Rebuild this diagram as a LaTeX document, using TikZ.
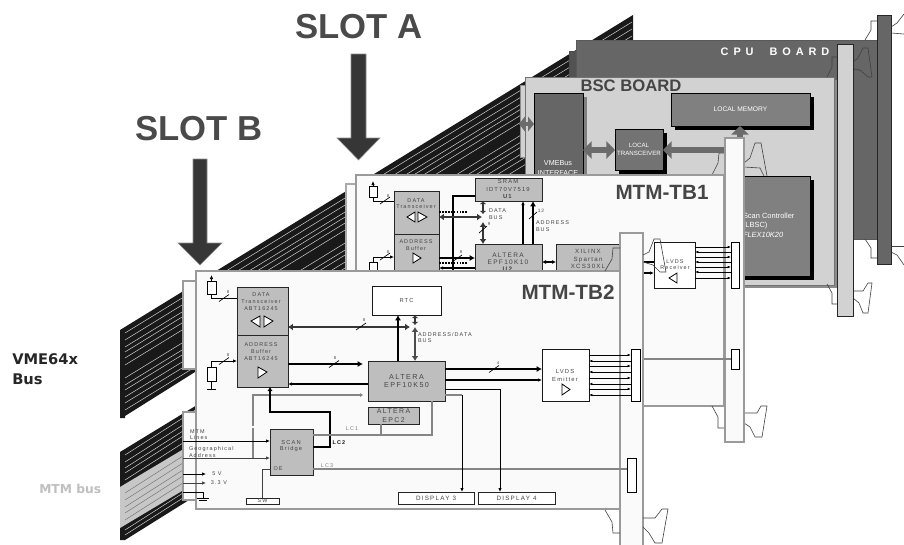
\documentclass[tikz,border=0pt]{standalone}
\usepackage{fontspec}
\setmainfont{Liberation Sans}
\newfontfamily\spc[LetterSpace=20]{Liberation Sans}
\newfontfamily\spcw[LetterSpace=45]{Liberation Sans}
\newfontfamily\vdj{DejaVu Sans}
\usetikzlibrary{arrows.meta}
\definecolor{txtg}{HTML}{454545}
\definecolor{boxg}{HTML}{BEBEBE}
\definecolor{brd}{HTML}{9A9A9A}
\definecolor{pan}{HTML}{FAFAFA}
\definecolor{dk}{HTML}{363636}
\definecolor{cpu}{HTML}{666666}
\definecolor{bsc}{HTML}{D2D2D2}
\definecolor{lcg}{HTML}{858585}
\tikzset{
  pb/.style={draw,rectangle,inner sep=0pt,outer sep=0pt,align=center},
  chip/.style={pb,fill=boxg,draw=black!85,line width=.75pt},
  wbox/.style={pb,fill=white,draw=black!90,line width=.75pt},
  board/.style={pb,fill=pan,draw=brd,line width=.8pt},
  res/.style={pb,fill=white,draw=black,line width=.5pt},
  conn/.style={pb,fill=white,draw=black,line width=.6pt},
  graybox/.style={pb,draw=black,line width=.6pt},
  txs/.style={inner sep=0pt,outer sep=0pt,align=center,text=txtg,font=\spc\fontsize{4.1}{5}\selectfont},
  txsl/.style={txs,align=left,anchor=west},
  txm/.style={inner sep=0pt,outer sep=0pt,align=center,text=txtg,font=\spc\fontsize{5.3}{5.6}\selectfont},
  txw/.style={inner sep=0pt,outer sep=0pt,align=center,text=white,font=\fontsize{5}{5.6}\selectfont},
  big/.style={inner sep=0pt,outer sep=0pt,text=txtg,font=\bfseries\fontsize{15.5}{17}\selectfont},
  slotlab/.style={inner sep=0pt,outer sep=0pt,text=dk!90!white,font=\bfseries\fontsize{26}{28}\selectfont},
  tip/.style={-{Latex[length=3pt,width=2.6pt]}},
  ln/.style={black,line width=.55pt},
  lnt/.style={black,line width=1.1pt,tip},
  lnh/.style={black,line width=1.9pt,-{Latex[length=4pt,width=4.5pt]}},
  dbl/.style={dk,line width=1.5pt,{Latex[length=3.6pt,width=5pt]}-{Latex[length=3.6pt,width=5pt]}},
  dbls/.style={dk,line width=1.5pt,{Latex[length=2.4pt,width=5pt]}-{Latex[length=2.4pt,width=5pt]}},
  dot/.style={black,line width=.8pt,dash pattern=on 1.3pt off .9pt},
  lcl/.style={lcg,line width=.9pt},
  slash/.style={black,line width=.5pt},
  tri/.style={draw=black,fill=white,line width=.6pt},
  hnd/.style={draw=black!75,line width=.45pt},
  garrow/.style={draw=black!58,line width=4pt,{Triangle[length=6.5pt,width=13pt]}-{Triangle[length=6.5pt,width=13pt]}},
  garrows/.style={draw=black!58,line width=3pt,{Triangle[length=4.5pt,width=11pt]}-{Triangle[length=4.5pt,width=11pt]}},
  slotarr/.style={fill=dk,draw=black!45,line width=.4pt},
  stripe/.style={white!85!black,line width=.35pt},
}
\newcommand\pbox[7]{%
  \pgfmathsetmacro\bw{(#5-#3)*.75}\pgfmathsetmacro\bh{(#6-#4)*.75}%
  \node[#1,minimum width=\bw pt,minimum height=\bh pt] (#2) at ({(#3+#5)/2},{(#4+#6)/2}) {#7};}
\begin{document}
\begin{tikzpicture}[x=.75pt,y=-.75pt]
\clip (0,0) rectangle (904,544);
\fill[white] (0,0) rectangle (904,544);

% VME64x ribbon
\fill[black!90] (120,330) -- (633,15) -- (633,110) -- (195,372) -- (125,416) -- (125,418) -- (120,418) -- cycle;
\foreach \y in {333,340,347,352,358,365,378,385,390,397,403,410}{
  \draw[stripe] (125,\y) -- (632,\y-311);
}

% CPU board
\pbox{pb,fill=cpu!80!black,draw=black!70,line width=.6pt}{cputab}{569}{51}{577}{90}{}
\pbox{pb,fill=cpu,draw=black!65,line width=.6pt}{cpuboard}{576}{40}{878}{239}{}
\draw[hnd] (865,40) -- (871,30) -- (871,21) -- (877,21);
\draw[hnd] (865,239) -- (871,248) -- (871,258) -- (877,258);
\draw[hnd] (891,27) -- (897,23) -- (904,14);
\draw[hnd] (891,33) -- (904,34);
\draw[hnd] (891,246) -- (904,246);
\draw[hnd] (891,252) -- (897,255) -- (904,265);
\pbox{pb,fill=cpu,draw=black!85,line width=.7pt}{cpupanel}{877}{15}{891}{264}{}
\node[inner sep=0pt,text=white,font=\spcw\bfseries\fontsize{8.2}{9}\selectfont] (cpulab) at (775,52) {CPU\ \ BOARD};

% BSC board
\fill[black!45] (528,80) rectangle (837,288);
\pbox{pb,fill=bsc,draw=black!45,line width=.6pt}{bsctab}{520}{85}{526}{157}{}
\pbox{pb,fill=bsc,draw=black!55,line width=.7pt}{bscboard}{525}{77}{834}{285}{}
\draw[hnd] (827,77) -- (832,67) -- (832,57) -- (837,57);
\draw[hnd] (853,62) -- (858,58) -- (863,48) -- (868,48) -- (872,77) -- (868,77) -- (860,70);
\draw[black!70,line width=.8pt] (860,70) -- (853,69);
\draw[hnd] (827,284) -- (832,293) -- (832,304) -- (837,304);
\draw[hnd] (853,291) -- (863,291) -- (868,283) -- (872,283) -- (868,313) -- (863,313) -- (859,303) -- (853,298);
\draw[hnd] (712,175) -- (718,163) -- (719,153) -- (725,153);
\draw[hnd] (744,163) -- (750,158) -- (755,143) -- (761,143) -- (767,176);
\draw[hnd] (744,167) -- (760,168) -- (764,176);
\pbox{pb,fill=bsc,draw=black!85,line width=.7pt}{bscpanel}{837}{44}{853}{316}{}
\node[big,font=\bfseries\fontsize{12.5}{14}\selectfont] (bsclab) at (631,86) {BSC BOARD};

\fill[black!50] (583,97) rectangle (587,200);
\pbox{graybox,fill=cpu}{vme}{534}{93}{583}{200}{}
\node[txw,font=\fontsize{5.4}{7}\selectfont] (vmelab) at (558,168) {VMEBus\\INTERFACE};
\fill[black] (675,97) rectangle (814,130);
\pbox{graybox,fill=black!50,text=white,font=\fontsize{5}{6}\selectfont}{lmem}{671}{93}{810}{126}{LOCAL MEMORY}
\fill[black] (619,133) rectangle (667,174);
\pbox{graybox,fill=black!55,text=white,font=\fontsize{4.6}{5.8}\selectfont}{ltrans}{615}{129}{663}{170}{LOCAL\\TRANSCEIVER}
\fill[black] (694,180) rectangle (814,280);
\pbox{graybox,fill=black!50}{scanc}{690}{176}{810}{276}{}
\node[txw,anchor=west,align=left,font=\fontsize{5.6}{7}\selectfont] (scanlab) at (743,225) {Scan Controller\\(LBSC)\\\itshape FLEX10K20};
\draw[garrows] (519,124) -- (534,124);
\draw[garrow] (vme.east |- 0,150) -- (ltrans.west |- 0,150);
\draw[draw=black!58,line width=4pt,{Triangle[length=6.5pt,width=13pt]}-] (ltrans.east |- 0,150) -- (740,150);
\draw[draw=black!58,line width=4pt,-{Triangle[length=6.5pt,width=13pt]}] (740,152) -- (740,0 |- lmem.south);

% MTM-TB1
\pbox{pb,fill=pan,draw=brd!85,line width=.8pt}{tabA}{346}{184}{356}{272}{}
\pbox{board}{tbone}{356}{175}{724}{406}{}
\node[big] (tbonelab) at (662,192) {MTM-TB1};
\draw[hnd] (712,406) -- (718,417) -- (718,428) -- (725,428);
\draw[hnd] (744,413) -- (757,413) -- (761,406) -- (767,406) -- (762,437) -- (755,437) -- (750,427) -- (744,423);
\pbox{board}{pnlA}{725}{138}{744}{442}{}
\pbox{conn}{connA}{731}{242}{739}{288}{}
\pbox{conn}{connAb}{731}{349}{739}{369}{}
\draw[lcl] (620,359) -- (connAb.west |- 0,359);

\pbox{chip}{srama}{475}{178}{542}{201}{}
\node[txs,font=\spc\fontsize{4.4}{5.5}\selectfont] (sramlab) at (508,189) {SRAM\\IDT70V7519\\\textbf{U1}};
\pbox{chip}{dtA}{394}{191}{439}{234}{}
\node[txs] (dtAlab) at (416,203.5) {DATA\\Transceiver};
\draw[tri] (407,217) -- (415,212) -- (415,222) -- cycle;
\draw[tri] (418,212) -- (427,217) -- (418,222) -- cycle;
\pbox{chip}{abA}{394}{234}{439}{290}{}
\node[txs] (abAlab) at (416,245) {ADDRESS\\Buffer};
\draw[tri] (413,253) -- (421,258) -- (413,263) -- cycle;
\pbox{chip}{altA}{475}{244}{542}{290}{}
\node[txm,font=\spc\fontsize{4.9}{5.4}\selectfont] (altAlab) at (508,262) {ALTERA\\EPF10K10\\\textbf{U2}};
\pbox{chip}{xil}{556}{244}{630}{290}{}
\node[txs,font=\spc\fontsize{4.6}{5.7}\selectfont] (xillab) at (588,259) {XILINX\\Spartan\\XCS30XL};

\pbox{res}{r1A}{369}{186}{377}{197}{}
\draw[ln,tip] (r1A.north) -- (373,181);
\draw[ln] (r1A.south) -- (373,201) -- (dtA.west |- 0,201);
\draw[slash] (380,204) -- (390,197);
\node[txs,font=\spc\fontsize{3.2}{4}\selectfont] (l8a) at (388,196) {8};
\pbox{res}{r2A}{369}{262}{377}{290}{}
\draw[ln,tip] (r2A.north) -- (373,257) -- (abA.west |- 0,257);
\draw[slash] (380,260) -- (390,253);
\node[txs,font=\spc\fontsize{3.2}{4}\selectfont] (l8b) at (388,252) {8};

\draw[black,line width=1.1pt] (srama.west |- 0,196) -- (453,196) -- (453,275);
\draw[dot] (dtA.east |- 0,212) -- (468,212);
\draw[dbl] (dtA.east |- 0,217) -- (482,217);
\draw[dbls] (483,0 |- srama.south) -- (483,214);
\draw[dbl] (483,222) -- (483,0 |- altA.north);
\draw[slash] (479,233) -- (487,226);
\node[txs,font=\spc\fontsize{3.2}{4}\selectfont] (l9) at (489,224) {9};
\node[txsl] (dblab) at (489,214) {DATA\\BUS};
\draw[lnt] (523,0 |- altA.north) -- (523,0 |- srama.south);
\draw[lnh,line width=1.5pt] (533,0 |- altA.north) -- (533,0 |- srama.south);
\draw[slash] (529,219) -- (537,212);
\node[txs,font=\spc\fontsize{3.6}{4}\selectfont] (l12) at (541,211) {12};
\node[txsl] (ablab) at (536,226) {ADDRESS\\BUS};
\draw[lnh,line width=1.6pt] (abA.east |- 0,258) -- (altA.west |- 0,258);
\draw[slash] (452,262) -- (462,255);
\node[txs,font=\spc\fontsize{3.2}{4}\selectfont] (l8c) at (461,252) {8};
\draw[dot] (abA.east |- 0,263) -- (467,263);
\draw[lnt,line width=.9pt] (altA.west |- 0,268) -- (abA.east |- 0,268);
\draw[ln,line width=.9pt,{Latex[length=3pt,width=3pt]}-{Latex[length=3pt,width=3pt]}] (altA.east |- 0,262) -- (xil.west |- 0,262);

\draw[black,line width=1.6pt] (620,262) -- (654,262);
\draw[lnt] (620,273) -- (654,273);
\pbox{wbox}{recv}{654}{242}{695}{288}{}
\node[txs] (recvlab) at (675,264.5) {LVDS\\Receiver};
\draw[tri] (669,278) -- (677,273) -- (677,283) -- cycle;
\foreach \y/\st in {247/{-{Latex[length=2.5pt,width=2pt]}},252/{{Latex[length=2.5pt,width=2pt]}-},257/{-{Latex[length=2.5pt,width=2pt]}},262/{{Latex[length=2.5pt,width=2pt]}-},267/{-{Latex[length=2.5pt,width=2pt]}},272/{{Latex[length=2.5pt,width=2pt]}-},278/{-{Latex[length=2.5pt,width=2pt]}}}{
  \draw[ln,\st] (recv.east |- 0,\y) -- (connA.west |- 0,\y);
}

% lower (MTM) ribbon
\fill[black!90] (120,452) -- (197,405) -- (197,495) -- (125,540) -- (120,540) -- cycle;
\fill[black!22] (120,487) -- (197,441) -- (197,482) -- (120,528) -- cycle;
\foreach \y in {455,462,468,473,480,530,535}{
  \draw[stripe] (125,\y) -- (197,\y-46);
}
\foreach \y in {493,500,507,513,520}{
  \draw[black!55,line width=.35pt] (125,\y) -- (197,\y-46);
}

% MTM-TB2
\pbox{board}{tabB}{183}{281}{196}{369}{}
\pbox{board}{tabC}{183}{412}{196}{500}{}
\pbox{board}{tbtwo}{196}{271}{620}{509}{}
\node[big] (tbtwolab) at (568,292) {MTM-TB2};
\pbox{board}{pnlB}{620}{233}{643}{560}{}
\draw[hnd] (605,271) -- (612,259) -- (613,248) -- (620,248);
\draw[hnd] (643,255) -- (649,252) -- (654,239) -- (660,239) -- (666,272) -- (660,272) -- (653,265) -- (643,262);
\draw[hnd] (605,510) -- (612,522) -- (613,533) -- (620,533);
\draw[hnd] (643,518) -- (655,518) -- (662,509) -- (668,509) -- (662,543) -- (655,543) -- (649,533) -- (643,527);
\pbox{conn}{connB}{631}{349}{640}{401}{}
\pbox{conn}{connBb}{627}{458}{636}{492}{}

\pbox{chip}{dtB}{237}{287}{288}{335}{}
\node[txs] (dtBlab) at (261,301.5) {DATA\\Transceiver\\ABT16245};
\draw[tri] (251,321) -- (260,316) -- (260,327) -- cycle;
\draw[tri] (264,316) -- (273,321) -- (264,327) -- cycle;
\pbox{chip}{abB}{237}{335}{288}{387}{}
\node[txs] (abBlab) at (261,351.5) {ADDRESS\\Buffer\\ABT16245};
\draw[tri] (258,367) -- (267,372) -- (258,378) -- cycle;
\pbox{wbox,text=txtg,font=\spc\fontsize{4.3}{5}\selectfont}{rtc}{372}{286}{441}{315}{RTC}
\pbox{chip,text=txtg,font=\spc\fontsize{5.4}{5.6}\selectfont}{altB}{368}{361}{445}{401}{ALTERA\\EPF10K50}
\pbox{chip,text=txtg,font=\spc\fontsize{5.2}{6.5}\selectfont}{epc}{368}{407}{419}{424}{ALTERA\\EPC2}
\pbox{chip}{scan}{270}{429}{313}{475}{}
\node[txs,font=\spc\fontsize{4.3}{4.6}\selectfont] (scanblab) at (291,446) {SCAN\\Bridge};
\node[txs] (oelab) at (278,469) {OE};
\pbox{pb,fill=white,draw=black!85,line width=.6pt,text=txtg,font=\spc\fontsize{4}{4}\selectfont}{sw}{246}{498}{279}{504}{SW}
\pbox{pb,fill=white,draw=black!85,line width=.7pt,text=txtg,font=\spc\fontsize{4.7}{5}\selectfont}{disp3}{398}{492}{474}{504}{DISPLAY 3}
\pbox{pb,fill=white,draw=black!85,line width=.7pt,text=txtg,font=\spc\fontsize{4.7}{5}\selectfont}{disp4}{478}{492}{555}{504}{DISPLAY 4}
\pbox{wbox}{emit}{542}{349}{589}{401}{}
\node[txs,font=\spc\fontsize{4.4}{6}\selectfont] (emitlab) at (565,375) {LVDS\\Emitter};
\draw[tri] (562,384) -- (570,389.5) -- (562,395) -- cycle;

% resistors
\pbox{res}{r1B}{207}{281}{216}{294}{}
\draw[ln,tip] (r1B.north) -- (211.5,275);
\draw[ln] (r1B.south) -- (211.5,298) -- (dtB.west |- 0,298);
\draw[slash] (219,301.5) -- (229,294.5);
\node[txs,font=\spc\fontsize{3.2}{4}\selectfont] (l8d) at (228,292) {8};
\pbox{res}{r2B}{207}{367}{216}{381}{}
\draw[ln,tip] (r2B.north) -- (211.5,361) -- (abB.west |- 0,361);
\draw[slash] (219,364.5) -- (229,357.5);
\node[txs,font=\spc\fontsize{3.2}{4}\selectfont] (l8e) at (228,355) {8};
\draw[ln] (r2B.south) -- (211.5,389);
\draw[ln] (207,389) -- (216,389);

% buses
\draw[dbl] (dtB.east |- 0,327) -- (410,327);
\draw[slash] (356,330) -- (366,323);
\node[txs,font=\spc\fontsize{3.2}{4}\selectfont] (l8f) at (364,320) {8};
\draw[lnh,line width=1.3pt] (398,0 |- altB.north) -- (398,0 |- rtc.south);
\draw[dbls,line width=1.4pt] (415,0 |- rtc.south) -- (415,325);
\draw[dbl,draw=black!70,line width=1.9pt] (415,327) -- (415,0 |- altB.north);
\node[txsl] (adlab) at (418,337.5) {ADDRESS/DATA\\BUS};
\draw[lnh] (abB.east |- 0,364) -- (363,364);
\draw[slash] (329,367.5) -- (339,360.5);
\node[txs,font=\spc\fontsize{3.2}{4}\selectfont] (l8g) at (335,358) {8};
\draw[lnt,line width=.9pt] (altB.west |- 0,384) -- (abB.east |- 0,384);
\draw[lcl,line width=1pt] (253,458) -- (253,428);
\draw[lcl,line width=1pt] (253,426) -- (253,395) -- (362,395);
\fill[lcg] (363,395) -- (360,393) -- (360,397) -- cycle;
\draw[black,line width=1.2pt,-{Latex[length=3pt,width=4pt]}] (scan.east |- 0,447) -- (330,447) -- (330,412) -- (270,412) -- (270,0 |- abB.south);
\node[inner sep=0pt,text=black!90,font=\spc\bfseries\fontsize{4.1}{5}\selectfont] (lc2) at (339,443) {LC2};
\draw[lcl] (scan.east |- 0,435) -- (432,435) -- (432,0 |- altB.south);
\draw[lcl] (381,435) -- (381,0 |- epc.south);
\node[txs,text=black!50] (lc1) at (352,429) {LC1};
\draw[lcl] (scan.east |- 0,469) -- (connBb.west |- 0,469);
\node[txs,text=black!50] (lc3) at (327,466) {LC3};

% scan inputs
\node[txsl,font=\spc\fontsize{4.1}{4.6}\selectfont] (mtml) at (190,435) {MTM\\Lines};
\draw[ln,tip] (tabC.west |- 0,441) -- (scan.west |- 0,441);
\node[txsl,font=\spc\fontsize{4.1}{4.6}\selectfont] (geol) at (189,452) {Geographical\\Address};
\draw[ln,draw=black!75,tip] (tabC.west |- 0,458) -- (scan.west |- 0,458);
\draw[ln,tip] (tabC.west |- 0,474) -- (206,474);
\node[txs] (v5) at (217,474) {5 V};
\draw[ln,draw=black!75,tip] (tabC.west |- 0,483) -- (206,483);
\node[txs] (v33) at (219,483) {3.3 V};
\draw[ln] (tabC.west |- 0,492) -- (203,492) -- (203,498);
\draw[ln] (197,498) -- (209,498);
\draw[ln] (199,500) -- (207,500);
\draw[ln,draw=black!75] (scan.west |- 0,469) -- (262,469) -- (262,0 |- sw.north);

% emitter
\draw[black,line width=1.9pt,-{Latex[length=4pt,width=4.5pt]}] (altB.east |- 0,369) -- (emit.west |- 0,369);
\draw[slash] (489,372.5) -- (499,365.5);
\node[txs,font=\spc\fontsize{3.2}{4}\selectfont] (l4) at (498,363) {4};
\draw[lnt] (altB.east |- 0,380) -- (emit.west |- 0,380);
\draw[black,line width=.7pt,tip] (altB.east |- 0,389) -- (500,389) -- (500,0 |- disp4.north);
\draw[lcl] (altB.east |- 0,395) -- (462,395);
\draw[black,line width=.7pt,tip] (462,395) -- (462,0 |- disp3.north);
\foreach \y/\st in {355/{-{Latex[length=2.5pt,width=2pt]}},361/{{Latex[length=2.5pt,width=2pt]}-},366/{-{Latex[length=2.5pt,width=2pt]}},372/{{Latex[length=2.5pt,width=2pt]}-},378/{-{Latex[length=2.5pt,width=2pt]}},384/{{Latex[length=2.5pt,width=2pt]}-},389/{-{Latex[length=2.5pt,width=2pt]}},395/{{Latex[length=2.5pt,width=2pt]}-}}{
  \draw[ln,\st] (emit.east |- 0,\y) -- (connB.west |- 0,\y);
}

% slot labels and arrows
\node[slotlab] (slota) at (359,27) {SLOT A};
\node[slotlab] (slotb) at (199,129) {SLOT B};
\draw[slotarr] (351,54) -- (366,54) -- (366,138) -- (380,138) -- (358.5,160) -- (337,138) -- (351,138) -- cycle;
\draw[slotarr] (193,159) -- (207,159) -- (207,243) -- (222,243) -- (200,265) -- (178,243) -- (193,243) -- cycle;

% side labels
\node[inner sep=0pt,anchor=west,align=left,text=black!85,font=\vdj\bfseries\fontsize{11}{15}\selectfont] (vmeb) at (12,369) {VME64x\\Bus};
\node[inner sep=0pt,anchor=west,text=black!25,font=\vdj\bfseries\fontsize{9.2}{11}\selectfont] (mtmb) at (39,489) {MTM bus};
\end{tikzpicture}
\end{document}
